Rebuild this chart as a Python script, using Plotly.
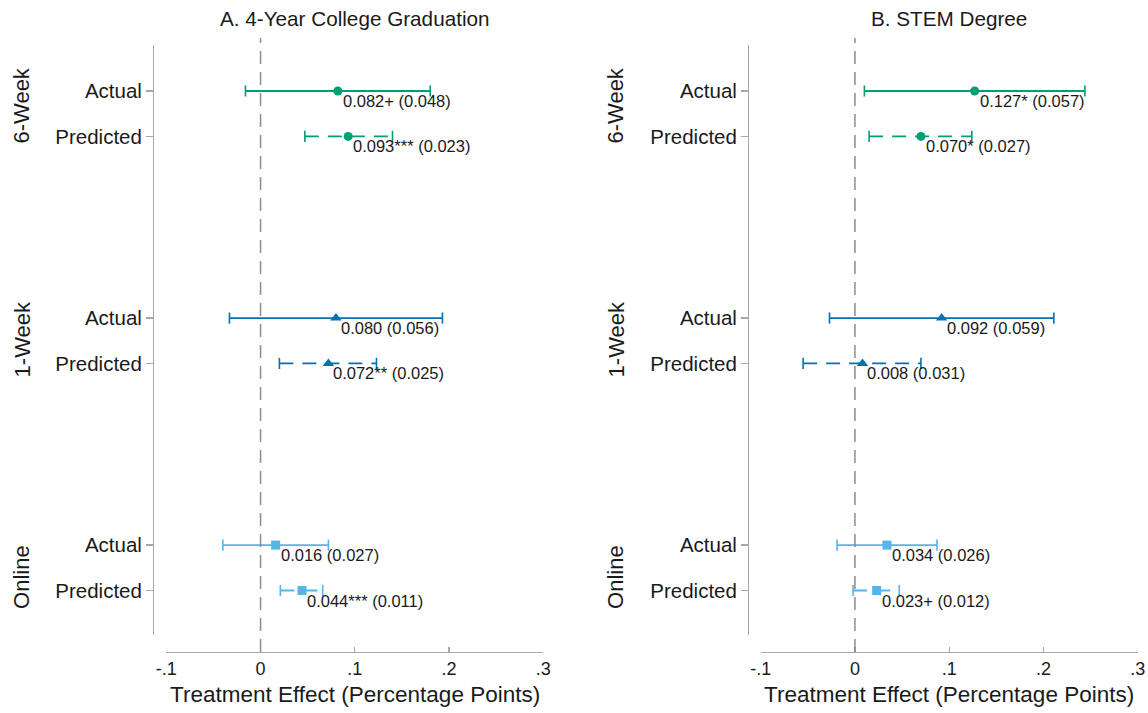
import plotly.graph_objects as go

# ---------------- data ----------------
groups = ["6-Week", "1-Week", "Online"]
rows = ["Actual", "Predicted"]
panel_titles = ["A. 4-Year College Graduation", "B. STEM Degree"]
x_title = "Treatment Effect (Percentage Points)"
xtick_vals = [-0.1, 0, 0.1, 0.2, 0.3]
xtick_text = ["-.1", "0", ".1", ".2", ".3"]

# order: 6W Actual, 6W Predicted, 1W Actual, 1W Predicted, Online Actual, Online Predicted
grad_est = [0.082, 0.093, 0.080, 0.072, 0.016, 0.044]
grad_se = [0.048, 0.023, 0.056, 0.025, 0.027, 0.011]
grad_stars = ["+", "***", "", "**", "", "***"]
grad_lo = [-0.016, 0.047, -0.033, 0.020, -0.040, 0.021]
grad_hi = [0.180, 0.140, 0.193, 0.123, 0.072, 0.066]

stem_est = [0.127, 0.070, 0.092, 0.008, 0.034, 0.023]
stem_se = [0.057, 0.027, 0.059, 0.031, 0.026, 0.012]
stem_stars = ["*", "*", "", "", "", "+"]
stem_lo = [0.010, 0.015, -0.027, -0.055, -0.019, -0.002]
stem_hi = [0.244, 0.124, 0.211, 0.070, 0.087, 0.047]

# ---------------- styling ----------------
W, H = 1148, 713
FONT = "Liberation Sans, Arial, sans-serif"
TXT = "#1a1a1a"
AXC = "#a8a8a8"
colors = ["#009E73", "#0072B2", "#56B4E9"]
symbols = ["circle", "triangle-up", "square"]
msizes = [9, 10, 9]
dashes = ["solid", "14px,9px"]
group_label_offsets = [-0.32, -0.47, -0.70]   # vertical placement tweak (axis units)


def px(x):
    return x / W


def py(y):
    return 1 - y / H


panels = [
    dict(est=grad_est, se=grad_se, stars=grad_stars, lo=grad_lo, hi=grad_hi,
         xdom=(166.3, 543.3), yline=153, glx=22),
    dict(est=stem_est, se=stem_se, stars=stem_stars, lo=stem_lo, hi=stem_hi,
         xdom=(760.7, 1137.7), yline=748, glx=616),
]

GROUP_STEP = 5
ROW_STEP = 1
yrange = [-11.98, 1.013]

fig = go.Figure()
annotations = []
shapes = []
layout_axes = {}

for p, pan in enumerate(panels):
    xa = "x" if p == 0 else "x2"
    ya = "y" if p == 0 else "y2"
    xkey = "xaxis" if p == 0 else "xaxis2"
    ykey = "yaxis" if p == 0 else "yaxis2"
    tickvals, ticktext = [], []
    for g, gname in enumerate(groups):
        for r, rname in enumerate(rows):
            i = g * len(rows) + r
            yv = -(g * GROUP_STEP + r * ROW_STEP)
            tickvals.append(yv)
            ticktext.append(rname)
            fig.add_trace(go.Scatter(
                x=[pan["lo"][i], pan["hi"][i]], y=[yv, yv], xaxis=xa, yaxis=ya,
                mode="lines+markers",
                line=dict(color=colors[g], width=1.8, dash=dashes[r]),
                marker=dict(symbol="line-ns", size=8,
                            line=dict(color=colors[g], width=1.6)),
                hoverinfo="skip", showlegend=False))
            fig.add_trace(go.Scatter(
                x=[pan["est"][i]], y=[yv], xaxis=xa, yaxis=ya, mode="markers",
                marker=dict(symbol=symbols[g], size=msizes[g], color=colors[g],
                            line=dict(width=0)),
                hoverinfo="skip", showlegend=False))
            label = f"{pan['est'][i]:.3f}{pan['stars'][i]} ({pan['se'][i]:.3f})"
            annotations.append(dict(
                x=pan["est"][i], y=yv, xref=xa, yref=ya, text=label,
                showarrow=False, xanchor="left", yanchor="middle",
                xshift=3, yshift=-10, font=dict(size=16.5, color=TXT, family=FONT)))
        # group label
        annotations.append(dict(
            x=px(pan["glx"]), y=-(g * GROUP_STEP) + group_label_offsets[g],
            xref="paper", yref=ya,
            text=gname, textangle=-90, showarrow=False,
            xanchor="center", yanchor="middle", font=dict(size=22, color=TXT, family=FONT)))

    x0, x1 = pan["xdom"]
    layout_axes[xkey] = dict(
        domain=[px(x0), px(x1)], range=[-0.1, 0.3], anchor="free", position=py(652),
        showline=True, linecolor=AXC, linewidth=1.3, ticks="inside", ticklen=5,
        tickcolor=AXC, tickwidth=1.3, tickvals=xtick_vals, ticktext=xtick_text,
        tickfont=dict(size=18, color=TXT, family=FONT), showgrid=False, zeroline=False,
        fixedrange=True, automargin=False)
    layout_axes[ykey] = dict(
        domain=[py(635), py(45)], range=yrange, anchor="free", position=px(pan["yline"]),
        showline=True, linecolor=AXC, linewidth=1.3, ticks="outside", ticklen=7,
        tickcolor=AXC, tickwidth=1.3, tickvals=tickvals, ticktext=ticktext,
        tickfont=dict(size=20.5, color=TXT, family=FONT), showgrid=False, zeroline=False,
        fixedrange=True, automargin=False)

    # zero reference line
    shapes.append(dict(type="line", xref=xa, yref="paper", x0=0, x1=0,
                       y0=py(652), y1=py(38),
                       line=dict(color="#8c8c8c", width=1.5, dash="13px,8px")))
    # panel title and x-axis title
    xc = px((x0 + x1) / 2)
    annotations.append(dict(x=xc, y=py(18), xref="paper", yref="paper",
                            text=panel_titles[p], showarrow=False,
                            xanchor="center", yanchor="middle",
                            font=dict(size=20.7, color=TXT, family=FONT)))
    annotations.append(dict(x=xc, y=py(694), xref="paper", yref="paper",
                            text=x_title, showarrow=False,
                            xanchor="center", yanchor="middle",
                            font=dict(size=22.5, color=TXT, family=FONT)))

fig.update_layout(
    template="none",
    width=W, height=H, margin=dict(l=0, r=0, t=0, b=0, pad=0, autoexpand=False),
    paper_bgcolor="white", plot_bgcolor="white",
    font=dict(family=FONT, color=TXT),
    annotations=annotations, shapes=shapes, showlegend=False,
    **layout_axes)

fig.write_html(
    "out.html",
    config={"displayModeBar": False, "staticPlot": True},
    post_script="document.body.style.margin='0';document.body.style.overflow='hidden';",
)
